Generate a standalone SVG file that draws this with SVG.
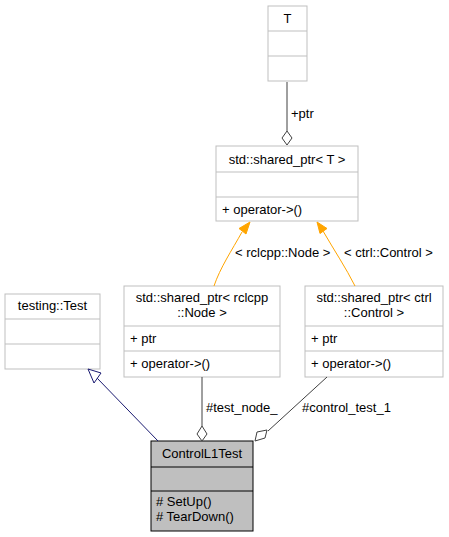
<svg xmlns="http://www.w3.org/2000/svg" width="449" height="537" viewBox="0 0 449 537">
<style>
text{font-family:"Liberation Sans",Arial,sans-serif;font-size:13px;fill:#000}
.box{fill:#fff;stroke:#bfbfbf;stroke-width:1}
.cur{fill:#bfbfbf;stroke:#000;stroke-width:1}
.c{text-anchor:middle}
.e{fill:none;stroke:#404040;stroke-width:1}
.o{fill:none;stroke:#ffa500;stroke-width:1}
.n{fill:none;stroke:#191970;stroke-width:1}
</style>
<rect width="449" height="537" fill="#fff"/>
<g id="node_T">
<rect class="box" x="268" y="6" width="39" height="75"/>
<line class="box" x1="268" y1="31" x2="307" y2="31"/>
<line class="box" x1="268" y1="56" x2="307" y2="56"/>
<text class="c" x="287.5" y="23">T</text>
</g>
<g id="node_shared_ptr_T">
<rect class="box" x="216" y="146" width="142" height="75"/>
<line class="box" x1="216" y1="172" x2="358" y2="172"/>
<line class="box" x1="216" y1="197" x2="358" y2="197"/>
<text class="c" x="287" y="164">std::shared_ptr&lt; T &gt;</text>
<text x="222" y="214">+ operator-&gt;()</text>
</g>
<g id="node_testing_Test">
<rect class="box" x="5" y="294" width="95" height="75"/>
<line class="box" x1="5" y1="319" x2="100" y2="319"/>
<line class="box" x1="5" y1="344" x2="100" y2="344"/>
<text class="c" x="52.5" y="310">testing::Test</text>
</g>
<g id="node_shared_ptr_Node">
<rect class="box" x="124" y="286" width="156" height="91"/>
<line class="box" x1="124" y1="326" x2="280" y2="326"/>
<line class="box" x1="124" y1="351" x2="280" y2="351"/>
<text class="c" x="202" y="302">std::shared_ptr&lt; rclcpp</text>
<text class="c" x="202" y="317">::Node &gt;</text>
<text x="130" y="343">+ ptr</text>
<text x="130" y="368">+ operator-&gt;()</text>
</g>
<g id="node_shared_ptr_Control">
<rect class="box" x="305" y="286" width="138" height="91"/>
<line class="box" x1="305" y1="326" x2="443" y2="326"/>
<line class="box" x1="305" y1="351" x2="443" y2="351"/>
<text class="c" x="374" y="302">std::shared_ptr&lt; ctrl</text>
<text class="c" x="374" y="317">::Control &gt;</text>
<text x="311" y="343">+ ptr</text>
<text x="311" y="368">+ operator-&gt;()</text>
</g>
<g id="node_ControlL1Test">
<rect class="cur" x="151" y="441" width="102" height="90"/>
<line class="cur" x1="151" y1="467" x2="253" y2="467"/>
<line class="cur" x1="151" y1="491" x2="253" y2="491"/>
<text class="c" x="202" y="458">ControlL1Test</text>
<text x="156" y="506"># SetUp()</text>
<text x="156" y="521"># TearDown()</text>
</g>
<g id="connectors">
<path class="e" d="M287,82 V131"/>
<polygon points="287,131 292,138 287,145 282,138" fill="#fff" stroke="#404040"/>
<text x="291" y="118">+ptr</text>
<path class="o" d="M214,286 C220,268 232,250 242,232"/>
<polygon points="250,222 246,234 239,228.5" fill="#ffa500" stroke="#ffa500"/>
<text x="235" y="257">&lt; rclcpp::Node &gt;</text>
<path class="o" d="M355,286 C346,268 334,250 323,231"/>
<polygon points="317,222 327,228.5 320,233.5" fill="#ffa500" stroke="#ffa500"/>
<text x="344" y="257">&lt; ctrl::Control &gt;</text>
<path class="n" d="M158,441 L97,378"/>
<polygon points="88,369 101,373 94,383" fill="#fff" stroke="#191970"/>
<path class="e" d="M202,377 V426"/>
<polygon points="202,441 197,434 202,426 207,434" fill="#fff" stroke="#404040"/>
<text x="206" y="412">#test_node_</text>
<path class="e" d="M327,377 L268,431"/>
<polygon points="255,441 257,432 267,430 265,438" fill="#fff" stroke="#404040"/>
<text x="302" y="412">#control_test_1</text>
</g>
</svg>
